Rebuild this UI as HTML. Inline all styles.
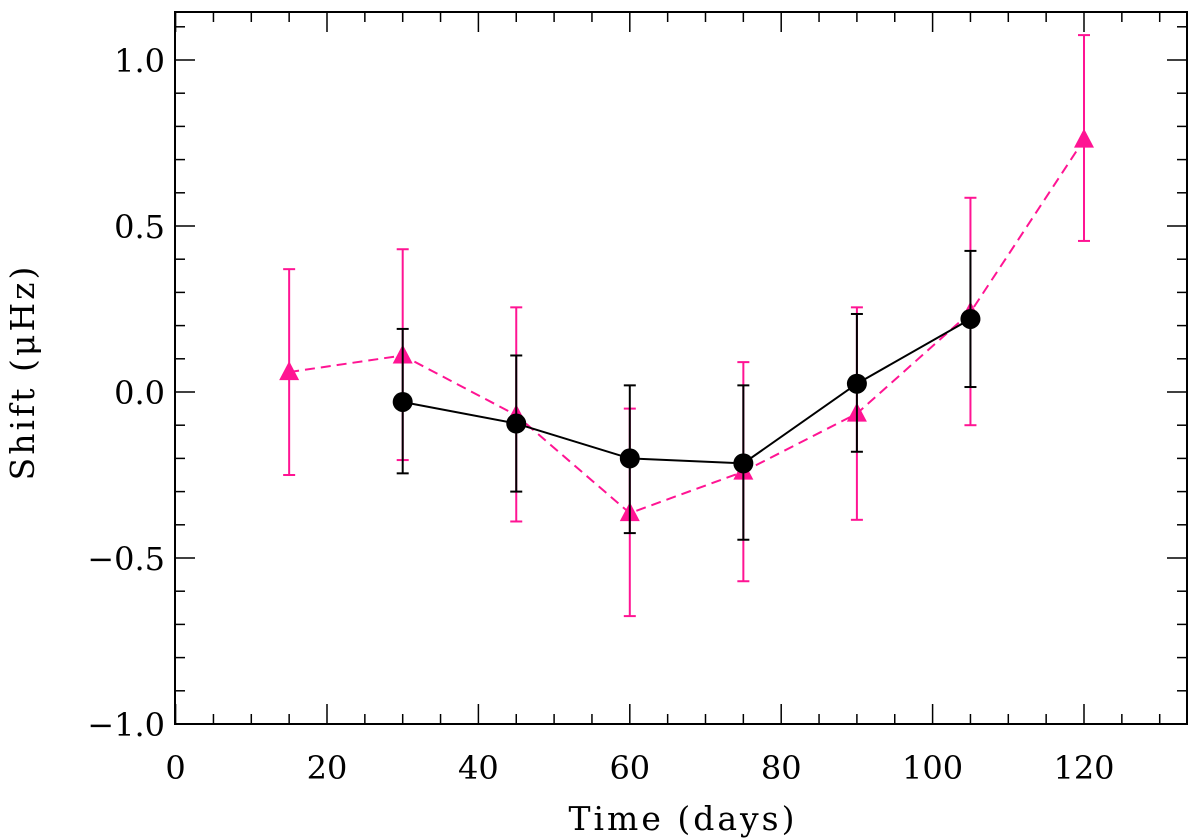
<!DOCTYPE html>
<html><head><meta charset="utf-8"><style>body{margin:0;background:#fff}svg{display:block}text{font-family:"DejaVu Serif","Liberation Serif",serif;font-size:32px;fill:#000}.title{letter-spacing:3px;font-size:33px}</style></head>
<body>
<svg id="chart" width="1200" height="839"></svg>
<script>
const xTicks=[0,20,40,60,80,100,120];
const yTicks=[-1.0,-0.5,0.0,0.5,1.0];
const blackX=[30,45,60,75,90,105];
const blackY=[-0.03,-0.095,-0.20,-0.215,0.025,0.22];
const blackHi=[0.19,0.11,0.02,0.02,0.235,0.425];
const blackLo=[-0.245,-0.30,-0.425,-0.445,-0.18,0.015];
const pinkX=[15,30,45,60,75,90,105,120];
const pinkY=[0.06,0.11,-0.07,-0.365,-0.24,-0.065,0.24,0.76];
const pinkHi=[0.37,0.43,0.255,-0.05,0.09,0.255,0.585,1.075];
const pinkLo=[-0.25,-0.205,-0.39,-0.675,-0.57,-0.385,-0.10,0.455];

const L=175,R=1187,T=12,B=724;
const sx=v=>175.6+v*7.57;
const sy=v=>392-v*332;
const svg=document.getElementById('chart');
const NS='http://www.w3.org/2000/svg';
function mk(tag,attrs,name,parent){const e=document.createElementNS(NS,tag);for(const k in attrs)e.setAttribute(k,attrs[k]);


(parent||svg).appendChild(e);return e;}
mk('rect',{x:L,y:T,width:R-L,height:B-T,fill:'none',stroke:'#000','stroke-width':2},'plot-frame');
const ax=mk('g',{stroke:'#000','stroke-width':1.5},'ticks');
for(let v=0;v<=133;v+=5){const big=v%20===0,len=big?20:10,x=sx(v);
mk('line',{x1:x,y1:B,x2:x,y2:B-len},'x-tick',ax);mk('line',{x1:x,y1:T,x2:x,y2:T+len},'x-tick-top',ax);}
for(let i=-10;i<=11;i++){const v=i/10,big=i%5===0,len=big?20:10,y=sy(v);
mk('line',{x1:L,y1:y,x2:L+len,y2:y},'y-tick',ax);mk('line',{x1:R,y1:y,x2:R-len,y2:y},'y-tick-right',ax);}
xTicks.forEach(v=>{const t=mk('text',{x:sx(v),y:B+55,'text-anchor':'middle'},'x-tick-label');t.textContent=v;});
yTicks.forEach(v=>{const t=mk('text',{x:L-10,y:sy(v)+12,'text-anchor':'end'},'y-tick-label');t.textContent=(v<0?'\u2212':'')+Math.abs(v).toFixed(1);});
const xt=mk('text',{x:683,y:830,'text-anchor':'middle','class':'title'},'x-axis-title');xt.textContent='Time (days)';
const yt=mk('text',{x:34,y:372,'text-anchor':'middle','class':'title',transform:'rotate(-90 34 372)'},'y-axis-title');yt.textContent='Shift (\u03bcHz)';
function series(X,Y,Hi,Lo,col,dash,name,marker){
const g=mk('g',{},name+'-series');
mk('polyline',{points:X.map((x,i)=>sx(x)+','+sy(Y[i])).join(' '),fill:'none',stroke:col,'stroke-width':2,'stroke-dasharray':dash},name+'-line',g);
X.forEach((x,i)=>{const px=sx(x);
mk('line',{x1:px,y1:sy(Hi[i]),x2:px,y2:sy(Lo[i]),stroke:col,'stroke-width':2},name+'-error-bar',g);
mk('line',{x1:px-6,y1:sy(Hi[i]),x2:px+6,y2:sy(Hi[i]),stroke:col,'stroke-width':2},name+'-error-cap',g);
mk('line',{x1:px-6,y1:sy(Lo[i]),x2:px+6,y2:sy(Lo[i]),stroke:col,'stroke-width':2},name+'-error-cap',g);
const py=sy(Y[i]);
if(marker==='circle')mk('circle',{cx:px,cy:py,r:10,fill:col},name+'-point',g);
else mk('polygon',{points:`${px},${py-11} ${px-10},${py+8} ${px+10},${py+8}`,fill:col},name+'-point',g);});}
series(pinkX,pinkY,pinkHi,pinkLo,'#ff1493','10,6','pink','tri');
series(blackX,blackY,blackHi,blackLo,'#000','none','black','circle');
</script>
</body></html>
